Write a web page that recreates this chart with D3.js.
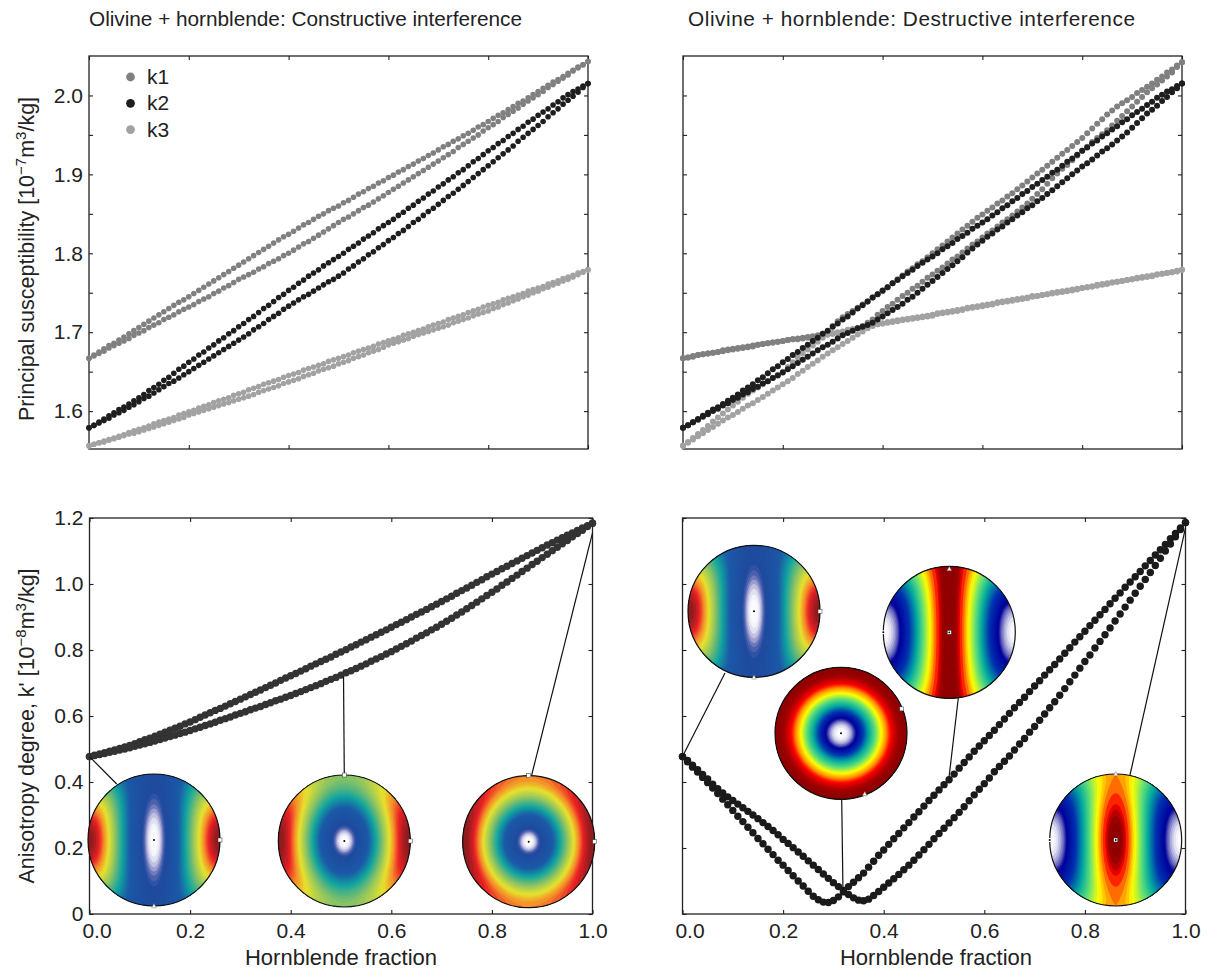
<!DOCTYPE html>
<meta charset="utf-8">
<style>
body { margin: 0; background: #fff; }
svg { display: block; }
text { font-family: "Liberation Sans", Arial, sans-serif; fill: #222; }
.axis text { font-size: 21px; fill: #222; }
.axis line { stroke: #222; stroke-width: 1.1px; }
.axis path { display: none; }
.frame { fill: none; stroke: #222; stroke-width: 1.3px; }
.title { font-size: 20.8px; }
.label { font-size: 21.5px; }
.xlabel { font-size: 22px; }
.legend text { font-size: 21px; }
.leader { stroke: #111; stroke-width: 1.2px; }
.rim { fill: none; stroke: #111; stroke-width: 1.2px; }
</style>
<svg width="1209" height="971"></svg>
<script src="https://d3js.org/d3.v7.min.js"></script>
<script>
var xTicks = [0, 0.2, 0.4, 0.6, 0.8, 1];
var suscTicks = [1.6, 1.65, 1.7, 1.75, 1.8, 1.85, 1.9, 1.95, 2.0];
var suscLabels = [1.6, 1.7, 1.8, 1.9, 2.0];
var aniTicks = [0, 0.2, 0.4, 0.6, 0.8, 1, 1.2];
var titles = ["Olivine + hornblende: Constructive interference", "Olivine + hornblende: Destructive interference"];
var legendNames = ["k1", "k2", "k3"];

// principal susceptibilities, one value per 0.01 of hornblende fraction
var k1Upper = [1.667,1.671,1.675,1.679,1.683,1.686,1.690,1.694,1.698,1.702,1.706,
1.710,1.714,1.718,1.722,1.726,1.730,1.734,1.738,1.741,1.745,
1.749,1.753,1.757,1.761,1.765,1.769,1.773,1.777,1.781,1.785,
1.789,1.793,1.797,1.801,1.805,1.809,1.813,1.817,1.821,1.824,
1.828,1.832,1.836,1.839,1.843,1.847,1.850,1.854,1.857,1.860,
1.864,1.867,1.871,1.875,1.878,1.882,1.885,1.889,1.892,1.896,
1.899,1.903,1.906,1.910,1.913,1.917,1.920,1.924,1.927,1.931,
1.935,1.938,1.942,1.945,1.949,1.952,1.956,1.960,1.963,1.967,
1.971,1.975,1.978,1.982,1.986,1.990,1.993,1.997,2.001,2.005,
2.009,2.013,2.017,2.020,2.024,2.028,2.032,2.036,2.039,2.043];
var k1Lower = [1.667,1.670,1.673,1.676,1.680,1.683,1.686,1.689,1.692,1.696,1.699,
1.702,1.706,1.709,1.712,1.716,1.719,1.722,1.726,1.729,1.732,
1.735,1.739,1.742,1.745,1.749,1.752,1.756,1.759,1.763,1.767,
1.770,1.773,1.776,1.780,1.783,1.787,1.790,1.793,1.797,1.800,
1.804,1.808,1.812,1.815,1.819,1.823,1.827,1.831,1.835,1.839,
1.843,1.846,1.850,1.854,1.858,1.861,1.865,1.869,1.873,1.877,
1.881,1.885,1.889,1.893,1.897,1.901,1.905,1.909,1.913,1.917,
1.921,1.925,1.929,1.934,1.938,1.942,1.946,1.950,1.955,1.959,
1.963,1.967,1.972,1.976,1.980,1.984,1.989,1.993,1.997,2.001,
2.005,2.010,2.014,2.018,2.022,2.026,2.031,2.035,2.039,2.043];
var k2Upper = [1.579,1.582,1.586,1.590,1.594,1.598,1.602,1.605,1.609,1.613,1.617,
1.621,1.626,1.630,1.634,1.639,1.643,1.648,1.653,1.657,1.662,
1.666,1.671,1.675,1.680,1.684,1.689,1.693,1.698,1.702,1.707,
1.711,1.716,1.720,1.725,1.730,1.734,1.739,1.744,1.748,1.753,
1.757,1.762,1.766,1.771,1.775,1.779,1.784,1.788,1.792,1.796,
1.800,1.805,1.809,1.813,1.818,1.822,1.826,1.831,1.835,1.839,
1.843,1.848,1.852,1.857,1.861,1.866,1.870,1.875,1.879,1.884,
1.888,1.893,1.897,1.902,1.906,1.911,1.916,1.920,1.925,1.930,
1.934,1.939,1.943,1.948,1.952,1.957,1.961,1.966,1.970,1.975,
1.979,1.983,1.988,1.992,1.997,2.001,2.005,2.008,2.012,2.015];
var k2Lower = [1.579,1.582,1.585,1.588,1.591,1.595,1.598,1.601,1.605,1.608,1.612,
1.616,1.619,1.623,1.627,1.631,1.635,1.638,1.642,1.646,1.650,
1.654,1.658,1.662,1.666,1.670,1.674,1.678,1.682,1.686,1.690,
1.694,1.698,1.703,1.707,1.711,1.716,1.720,1.724,1.729,1.733,
1.737,1.741,1.745,1.748,1.752,1.756,1.760,1.764,1.767,1.771,
1.775,1.780,1.784,1.789,1.793,1.798,1.802,1.807,1.811,1.816,
1.820,1.825,1.829,1.834,1.839,1.843,1.848,1.853,1.857,1.862,
1.867,1.872,1.876,1.881,1.886,1.891,1.896,1.901,1.906,1.911,
1.916,1.921,1.926,1.931,1.936,1.942,1.947,1.952,1.957,1.962,
1.967,1.973,1.978,1.983,1.989,1.994,1.999,2.004,2.010,2.015];
var k3Upper = [1.556,1.558,1.560,1.562,1.564,1.566,1.568,1.570,1.573,1.575,1.577,
1.579,1.581,1.584,1.586,1.588,1.590,1.592,1.595,1.597,1.599,
1.601,1.604,1.606,1.608,1.611,1.613,1.615,1.617,1.620,1.622,
1.624,1.627,1.629,1.631,1.634,1.636,1.638,1.640,1.643,1.645,
1.647,1.649,1.652,1.654,1.656,1.658,1.660,1.663,1.665,1.667,
1.669,1.671,1.674,1.676,1.678,1.680,1.682,1.685,1.687,1.689,
1.691,1.693,1.696,1.698,1.700,1.702,1.704,1.707,1.709,1.711,
1.713,1.716,1.718,1.720,1.722,1.725,1.727,1.729,1.732,1.734,
1.736,1.738,1.741,1.743,1.745,1.747,1.749,1.752,1.754,1.756,
1.758,1.761,1.763,1.765,1.768,1.770,1.772,1.775,1.777,1.779];
var k3Lower = [1.556,1.558,1.560,1.561,1.563,1.565,1.567,1.569,1.571,1.572,1.574,
1.576,1.578,1.580,1.582,1.584,1.586,1.588,1.590,1.592,1.595,
1.597,1.599,1.601,1.603,1.605,1.607,1.609,1.611,1.613,1.615,
1.617,1.619,1.621,1.624,1.626,1.628,1.630,1.632,1.635,1.637,
1.639,1.641,1.644,1.646,1.648,1.651,1.653,1.655,1.657,1.660,
1.662,1.664,1.667,1.669,1.671,1.674,1.676,1.678,1.681,1.684,
1.686,1.688,1.690,1.692,1.695,1.697,1.699,1.701,1.703,1.705,
1.707,1.709,1.712,1.714,1.716,1.718,1.721,1.723,1.725,1.727,
1.730,1.732,1.735,1.737,1.740,1.742,1.745,1.747,1.750,1.752,
1.755,1.757,1.760,1.762,1.765,1.767,1.770,1.773,1.776,1.779];

// destructive case, the k1 and k3 branches swap near the crossing
var k1DesA = [1.667,1.668,1.670,1.671,1.672,1.673,1.674,1.675,1.677,1.678,1.679,
1.680,1.681,1.682,1.683,1.684,1.685,1.686,1.687,1.688,1.689,
1.690,1.691,1.692,1.693,1.694,1.695,1.696,1.698,1.701,1.708,
1.714,1.719,1.723,1.727,1.731,1.735,1.739,1.744,1.748,1.752,
1.757,1.762,1.767,1.772,1.777,1.781,1.786,1.790,1.795,1.800,
1.805,1.810,1.815,1.820,1.825,1.830,1.835,1.840,1.845,1.849,
1.854,1.858,1.863,1.867,1.872,1.876,1.881,1.886,1.891,1.896,
1.901,1.906,1.911,1.916,1.921,1.926,1.931,1.936,1.941,1.946,
1.952,1.958,1.964,1.970,1.976,1.981,1.986,1.990,1.994,1.998,
2.003,2.007,2.011,2.015,2.020,2.024,2.029,2.033,2.038,2.042];
var k1DesB = [1.667,1.668,1.669,1.671,1.672,1.673,1.674,1.675,1.676,1.677,1.678,
1.679,1.680,1.681,1.682,1.684,1.685,1.686,1.687,1.688,1.689,
1.690,1.691,1.691,1.692,1.693,1.694,1.695,1.696,1.697,1.698,
1.699,1.700,1.702,1.703,1.705,1.708,1.712,1.716,1.722,1.727,
1.732,1.736,1.741,1.746,1.750,1.755,1.759,1.764,1.769,1.773,
1.778,1.782,1.787,1.792,1.796,1.801,1.806,1.811,1.815,1.820,
1.825,1.829,1.834,1.839,1.843,1.848,1.853,1.858,1.863,1.869,
1.875,1.881,1.888,1.895,1.901,1.907,1.912,1.918,1.924,1.930,
1.935,1.941,1.946,1.951,1.956,1.962,1.968,1.974,1.980,1.986,
1.992,1.998,2.004,2.009,2.014,2.019,2.024,2.029,2.036,2.042];
var k2DesLower = [1.579,1.582,1.586,1.589,1.593,1.596,1.600,1.603,1.607,1.610,1.614,
1.617,1.621,1.624,1.628,1.631,1.635,1.638,1.642,1.645,1.649,
1.653,1.657,1.661,1.665,1.669,1.673,1.677,1.681,1.684,1.688,
1.692,1.696,1.699,1.702,1.705,1.707,1.709,1.712,1.716,1.720,
1.724,1.728,1.732,1.736,1.741,1.745,1.750,1.755,1.760,1.765,
1.770,1.775,1.780,1.785,1.790,1.795,1.801,1.806,1.811,1.816,
1.821,1.825,1.830,1.834,1.839,1.843,1.848,1.852,1.857,1.861,
1.866,1.870,1.875,1.880,1.885,1.890,1.895,1.900,1.905,1.910,
1.914,1.919,1.924,1.929,1.933,1.938,1.943,1.948,1.953,1.959,
1.965,1.971,1.977,1.982,1.987,1.993,1.998,2.004,2.009,2.015];
var k3DesA = [1.556,1.561,1.566,1.571,1.576,1.581,1.587,1.592,1.597,1.602,1.607,
1.612,1.617,1.622,1.626,1.630,1.634,1.638,1.642,1.646,1.650,
1.656,1.662,1.668,1.673,1.678,1.683,1.688,1.693,1.697,1.699,
1.700,1.701,1.703,1.704,1.705,1.706,1.708,1.709,1.710,1.711,
1.712,1.713,1.714,1.715,1.716,1.717,1.718,1.719,1.720,1.721,
1.723,1.724,1.725,1.726,1.727,1.728,1.730,1.731,1.732,1.733,
1.734,1.735,1.737,1.738,1.739,1.740,1.741,1.742,1.743,1.745,
1.746,1.747,1.748,1.749,1.750,1.751,1.752,1.753,1.754,1.756,
1.757,1.758,1.759,1.760,1.761,1.763,1.764,1.765,1.766,1.767,
1.768,1.769,1.770,1.771,1.773,1.774,1.775,1.776,1.777,1.779];
var k3DesB = [1.556,1.560,1.564,1.568,1.572,1.576,1.580,1.584,1.588,1.592,1.595,
1.599,1.603,1.607,1.610,1.614,1.618,1.622,1.626,1.630,1.634,
1.638,1.642,1.647,1.651,1.656,1.660,1.664,1.669,1.673,1.677,
1.681,1.685,1.689,1.693,1.697,1.701,1.705,1.708,1.710,1.711,
1.713,1.714,1.715,1.716,1.717,1.718,1.719,1.720,1.721,1.722,
1.724,1.725,1.726,1.727,1.728,1.729,1.731,1.732,1.733,1.734,
1.735,1.736,1.738,1.739,1.740,1.741,1.742,1.743,1.744,1.746,
1.746,1.747,1.748,1.750,1.751,1.752,1.753,1.754,1.755,1.756,
1.757,1.758,1.760,1.761,1.762,1.763,1.764,1.765,1.766,1.767,
1.769,1.770,1.771,1.772,1.773,1.774,1.775,1.776,1.778,1.779];

// anisotropy degree
var aniConUpper = [0.477,0.481,0.485,0.489,0.493,0.497,0.502,0.506,0.511,0.516,0.522,
0.528,0.533,0.539,0.545,0.551,0.557,0.563,0.569,0.576,0.582,
0.589,0.596,0.603,0.610,0.617,0.623,0.630,0.637,0.644,0.651,
0.658,0.665,0.672,0.679,0.686,0.693,0.700,0.708,0.715,0.722,
0.729,0.736,0.743,0.751,0.758,0.765,0.772,0.779,0.787,0.794,
0.801,0.809,0.816,0.824,0.831,0.839,0.846,0.854,0.861,0.869,
0.877,0.884,0.892,0.900,0.908,0.915,0.923,0.931,0.939,0.947,
0.955,0.963,0.972,0.980,0.988,0.996,1.005,1.013,1.022,1.030,
1.038,1.046,1.054,1.062,1.070,1.078,1.086,1.094,1.102,1.110,
1.118,1.125,1.133,1.140,1.148,1.155,1.162,1.170,1.177,1.184];
var aniConLower = [0.477,0.480,0.483,0.486,0.490,0.493,0.497,0.500,0.504,0.508,0.512,
0.516,0.520,0.524,0.529,0.533,0.538,0.542,0.547,0.551,0.556,
0.561,0.566,0.571,0.576,0.581,0.587,0.592,0.597,0.603,0.608,
0.613,0.619,0.624,0.629,0.635,0.640,0.646,0.651,0.657,0.662,
0.668,0.674,0.680,0.686,0.692,0.698,0.705,0.711,0.717,0.724,
0.731,0.737,0.744,0.751,0.758,0.766,0.773,0.780,0.788,0.795,
0.803,0.811,0.819,0.827,0.836,0.844,0.852,0.861,0.869,0.878,
0.887,0.896,0.906,0.915,0.925,0.935,0.945,0.955,0.965,0.975,
0.985,0.996,1.006,1.017,1.027,1.038,1.048,1.059,1.069,1.080,
1.090,1.101,1.111,1.122,1.132,1.143,1.153,1.163,1.174,1.184];
var aniDesA = [0.477,0.461,0.445,0.430,0.414,0.398,0.382,0.365,0.348,0.331,0.314,
0.296,0.280,0.263,0.246,0.229,0.213,0.196,0.180,0.163,0.148,
0.132,0.116,0.100,0.085,0.069,0.054,0.043,0.036,0.035,0.041,
0.052,0.067,0.083,0.096,0.110,0.124,0.142,0.160,0.178,0.194,
0.211,0.228,0.244,0.261,0.277,0.294,0.310,0.327,0.344,0.360,
0.376,0.392,0.407,0.424,0.442,0.459,0.476,0.493,0.509,0.525,
0.541,0.557,0.574,0.591,0.608,0.625,0.641,0.657,0.674,0.691,
0.707,0.724,0.740,0.756,0.773,0.790,0.807,0.824,0.840,0.857,
0.874,0.890,0.907,0.923,0.940,0.957,0.973,0.990,1.006,1.022,
1.038,1.055,1.071,1.088,1.104,1.120,1.137,1.153,1.170,1.186];
var aniDesB = [0.477,0.465,0.451,0.437,0.423,0.409,0.393,0.380,0.367,0.355,0.344,
0.333,0.322,0.311,0.300,0.289,0.277,0.265,0.253,0.240,0.226,
0.214,0.201,0.188,0.175,0.161,0.148,0.135,0.121,0.108,0.095,
0.083,0.071,0.059,0.049,0.042,0.040,0.045,0.056,0.068,0.081,
0.094,0.107,0.120,0.134,0.148,0.163,0.179,0.195,0.211,0.228,
0.244,0.260,0.276,0.292,0.308,0.325,0.343,0.361,0.378,0.395,
0.412,0.431,0.447,0.463,0.479,0.497,0.515,0.532,0.551,0.568,
0.587,0.606,0.625,0.643,0.663,0.683,0.704,0.724,0.745,0.765,
0.785,0.806,0.826,0.846,0.867,0.888,0.909,0.930,0.951,0.972,
0.993,1.014,1.035,1.056,1.078,1.100,1.121,1.143,1.165,1.186];

// susceptibility along the three net axes: east, north, centre
var netAxes = [[1, 0.08, 0], [1, 0.56, 0], [1, 0.82, 0], [1, 0.08, 0], [0, 1, 1], [1, 1, 0], [0, 0.9, 1]];
// value where each colour sits, then the colour
var mutedStops = [0, 0.01, 0.025, 0.04, 0.06, 0.25, 0.4, 0.55, 0.72, 0.82, 0.9, 0.97, 1];
var mutedColors = ["#ffffff", "#f0f0f8", "#b0b0d8", "#5a68b4", "#1f4a9e", "#1b5aa8", "#10a5a0", "#7fbf6a", "#e8e22c", "#f58a2a", "#ec2024", "#a01c20", "#8a1a1c"];
var ringStops = [0, 0.015, 0.04, 0.07, 0.1, 0.2, 0.32, 0.47, 0.6, 0.72, 0.81, 0.94, 1];
var invStops = [0, 0.03, 0.08, 0.15, 0.2, 0.4, 0.58, 0.72, 0.84, 0.9, 0.95, 0.975, 1];
var vividColors = ["#ffffff", "#f0f0f8", "#b8b8e0", "#5858b8", "#00009a", "#0030b0", "#00a8a0", "#60e078", "#ffff00", "#ff9000", "#ff0000", "#a00000", "#8b0000"];

var svg = d3.select("svg");
var fraction = d3.range(101).map(function(i) { return i / 100; });

function fmt(v) { return v === 0 ? "0" : v.toFixed(1); }

// frame with ticks pointing in on all four sides
function panel(left, right, top, bottom, yDomain, yTicks, yLabels, showX) {
    var x = d3.scaleLinear().domain([0, 1]).range([left, right]);
    var y = d3.scaleLinear().domain(yDomain).range([bottom, top]);
    var g = svg.append("g");

    g.append("g").attr("class", "axis")
        .attr("transform", "translate(0," + bottom + ")")
        .call(d3.axisBottom(x).tickValues(xTicks).tickSizeInner(-4).tickSizeOuter(0).tickPadding(9)
            .tickFormat(showX ? function(d) { return d.toFixed(1); } : ""));
    g.append("g").attr("class", "axis")
        .attr("transform", "translate(0," + top + ")")
        .call(d3.axisTop(x).tickValues(xTicks).tickSizeInner(-4).tickSizeOuter(0).tickFormat(""));
    g.append("g").attr("class", "axis")
        .attr("transform", "translate(" + left + ",0)")
        .call(d3.axisLeft(y).tickValues(yTicks).tickSizeInner(-4).tickSizeOuter(0).tickPadding(6)
            .tickFormat(function(d) { return yLabels && yLabels.indexOf(d) >= 0 ? fmt(d) : ""; }));
    g.append("g").attr("class", "axis")
        .attr("transform", "translate(" + right + ",0)")
        .call(d3.axisRight(y).tickValues(yTicks).tickSizeInner(-4).tickSizeOuter(0).tickFormat(""));

    g.append("rect").attr("class", "frame")
        .attr("x", left).attr("y", top)
        .attr("width", right - left).attr("height", bottom - top);

    if (showX) {
        // first label sits a little inside the corner
        g.select(".axis").selectAll(".tick text")
            .filter(function(d) { return d === 0; })
            .attr("dx", 7);
    }
    return { x: x, y: y, g: g };
}

function dots(p, values, color, r) {
    p.g.append("g").selectAll("circle")
        .data(values)
        .enter().append("circle")
        .attr("cx", function(d, i) { return p.x(fraction[i]); })
        .attr("cy", function(d) { return p.y(d); })
        .attr("r", r)
        .attr("fill", color);
}

// equal area lower hemisphere net, filled bands through d3.contours
function stereonet(id, cx, cy, axes, stops, colors, markers) {
    var R = 66, n = 180, span = 1.05;
    var values = new Array(n * n);
    for (var j = 0; j < n; j++) {
        for (var i = 0; i < n; i++) {
            var px = ((i + 0.5) / n * 2 - 1) * span,
                py = ((j + 0.5) / n * 2 - 1) * span,
                r = Math.max(Math.hypot(px, py), 1e-6),
                rr = Math.min(r, 1),
                cosT = 1 - rr * rr,
                sinT = rr * Math.sqrt(2 - rr * rr),
                ex = px / r * sinT,
                ey = py / r * sinT;
            values[i + j * n] = axes[0] * ex * ex + axes[1] * ey * ey + axes[2] * cosT * cosT;
        }
    }

    var levels = [];
    stops.slice(1).forEach(function(s, i) {
        var parts = Math.max(2, Math.ceil((s - stops[i]) / 0.025));
        for (var k = 0; k < parts; k++) levels.push(stops[i] + (s - stops[i]) * k / parts);
    });
    var color = d3.scaleLinear().domain(stops).range(colors);
    var bands = d3.contours().size([n, n]).thresholds(levels)(values);
    var path = d3.geoPath(d3.geoIdentity().scale(2 * R * span / n).translate([-R * span, -R * span]));

    var g = svg.append("g").attr("transform", "translate(" + cx + "," + cy + ")");
    g.append("clipPath").attr("id", "net" + id).append("circle").attr("r", R);
    g.append("g").attr("clip-path", "url(#net" + id + ")")
        .selectAll("path").data(bands)
        .enter().append("path")
        .attr("d", path)
        .attr("fill", function(d, i) {
            var top = i + 1 < levels.length ? levels[i + 1] : 1;
            return color((d.value + top) / 2);
        });
    g.append("circle").attr("class", "rim").attr("r", R);

    markers.forEach(function(m) {
        var mx = m[1] * R, my = m[2] * R;
        if (m[0] === "dot") {
            g.append("circle").attr("cx", mx).attr("cy", my).attr("r", 2).attr("fill", "#fff");
            g.append("circle").attr("cx", mx).attr("cy", my).attr("r", 1).attr("fill", "#000");
        } else if (m[0] === "square") {
            g.append("rect").attr("x", mx - 2).attr("y", my - 2).attr("width", 4).attr("height", 4)
                .attr("fill", "#fff").attr("stroke", "#333").attr("stroke-width", 0.5);
            if (m[3]) g.append("circle").attr("cx", mx).attr("cy", my).attr("r", 0.9).attr("fill", "#000");
        } else {
            g.append("path").attr("d", "M" + mx + "," + (my - 2.4) + "l2.4,4.2h-4.8z")
                .attr("fill", "#fff").attr("stroke", "#555").attr("stroke-width", 0.4);
        }
    });
}

// --- panels
var tl = panel(89, 588, 56, 449, [1.552, 2.05], suscTicks, suscLabels, false);
var tr = panel(683, 1182, 56, 449, [1.552, 2.05], suscTicks, null, false);
var bl = panel(89.5, 592.5, 518, 914, [0, 1.2], aniTicks, aniTicks, true);
var br = panel(682.5, 1185.5, 518, 914, [0, 1.2], aniTicks, null, true);

var k1Color = "#808080", k2Color = "#1e1e1e", k3Color = "#a2a2a2";

dots(tl, k1Upper, k1Color, 2.8);
dots(tl, k1Lower, k1Color, 2.8);
dots(tl, k3Upper, k3Color, 2.8);
dots(tl, k3Lower, k3Color, 2.8);
dots(tl, k2Upper, k2Color, 2.8);
dots(tl, k2Lower, k2Color, 2.8);

dots(tr, k1DesA, k1Color, 3);
dots(tr, k1DesB, k1Color, 3);
dots(tr, k3DesA, k3Color, 3);
dots(tr, k3DesB, k3Color, 3);
dots(tr, k2Upper, k2Color, 3);
dots(tr, k2DesLower, k2Color, 3);

dots(bl, aniConUpper, "#333333", 3.7);
dots(bl, aniConLower, "#333333", 3.7);
dots(br, aniDesA, "#1a1a1a", 3.7);
dots(br, aniDesB, "#1a1a1a", 3.7);

// --- leaders from curve to net
function leader(p, fx, val, x2, y2) {
    p.g.append("line").attr("class", "leader")
        .attr("x1", p.x(fx)).attr("y1", p.y(val))
        .attr("x2", x2).attr("y2", y2);
}
leader(bl, 0, 0.477, 116.7, 784);
leader(bl, 0.505, 0.72, 344.3, 775);
leader(bl, 1, 1.155, 531.7, 775);
leader(br, 0, 0.477, 725, 673);
leader(br, 0.53, 0.416, 958.3, 698);
leader(br, 0.319, 0.073, 841.7, 799);
leader(br, 1, 1.17, 1130, 775);

// --- nets
stereonet(0, 154, 840, netAxes[0], mutedStops, mutedColors, [["dot", 0, 0], ["square", 1, 0], ["tri", 0, 1]]);
stereonet(1, 344.3, 841, netAxes[1], mutedStops, mutedColors, [["dot", 0, 0], ["square", 1, 0], ["square", 0, -1]]);
stereonet(2, 528.7, 841.7, netAxes[2], mutedStops, mutedColors, [["dot", 0, 0], ["square", 1, 0], ["square", 0, -1]]);
stereonet(3, 754, 611.3, netAxes[3], mutedStops, mutedColors, [["dot", 0, 0], ["square", 1, 0], ["tri", 0, 1]]);
stereonet(4, 949.3, 632.3, netAxes[4], invStops, vividColors, [["square", 0, 0, true], ["tri", 0, -0.96], ["dot", -1, 0]]);
stereonet(5, 841, 733.3, netAxes[5], ringStops, vividColors, [["dot", 0, 0], ["square", 0.92, -0.37], ["tri", 0.36, 0.92]]);
stereonet(6, 1115.7, 840, netAxes[6], invStops, vividColors, [["square", 0, 0, true], ["tri", 0, -1], ["dot", -1, 0]]);

// --- text
svg.append("text").attr("class", "title").attr("x", 89).attr("y", 26)
    .attr("textLength", 433).text(titles[0]);
svg.append("text").attr("class", "title").attr("x", 688).attr("y", 26)
    .attr("textLength", 447).text(titles[1]);

svg.append("text").attr("class", "xlabel").attr("x", 341).attr("y", 965).attr("text-anchor", "middle").text("Hornblende fraction");
svg.append("text").attr("class", "xlabel").attr("x", 936).attr("y", 965).attr("text-anchor", "middle").text("Hornblende fraction");

function ylabel(cy, before, exp) {
    var t = svg.append("text").attr("class", "label")
        .attr("text-anchor", "middle")
        .attr("transform", "translate(34," + cy + ") rotate(-90)");
    t.append("tspan").text(before + " [10");
    t.append("tspan").attr("dy", -8).style("font-size", "15px").text(exp);
    t.append("tspan").attr("dy", 8).text("m");
    t.append("tspan").attr("dy", -8).style("font-size", "15px").text("3");
    t.append("tspan").attr("dy", 8).text("/kg]");
}
ylabel(259, "Principal susceptibility", "\u22127");
ylabel(726, "Anisotropy degree, k'", "\u22128");

var legend = svg.append("g").attr("class", "legend");
legendNames.forEach(function(name, i) {
    var cy = 77 + i * 26.3;
    legend.append("circle").attr("cx", 130.5).attr("cy", cy).attr("r", 4.4)
        .attr("fill", [k1Color, k2Color, k3Color][i]);
    legend.append("text").attr("x", 147).attr("y", cy + 7).text(name);
});
</script>
